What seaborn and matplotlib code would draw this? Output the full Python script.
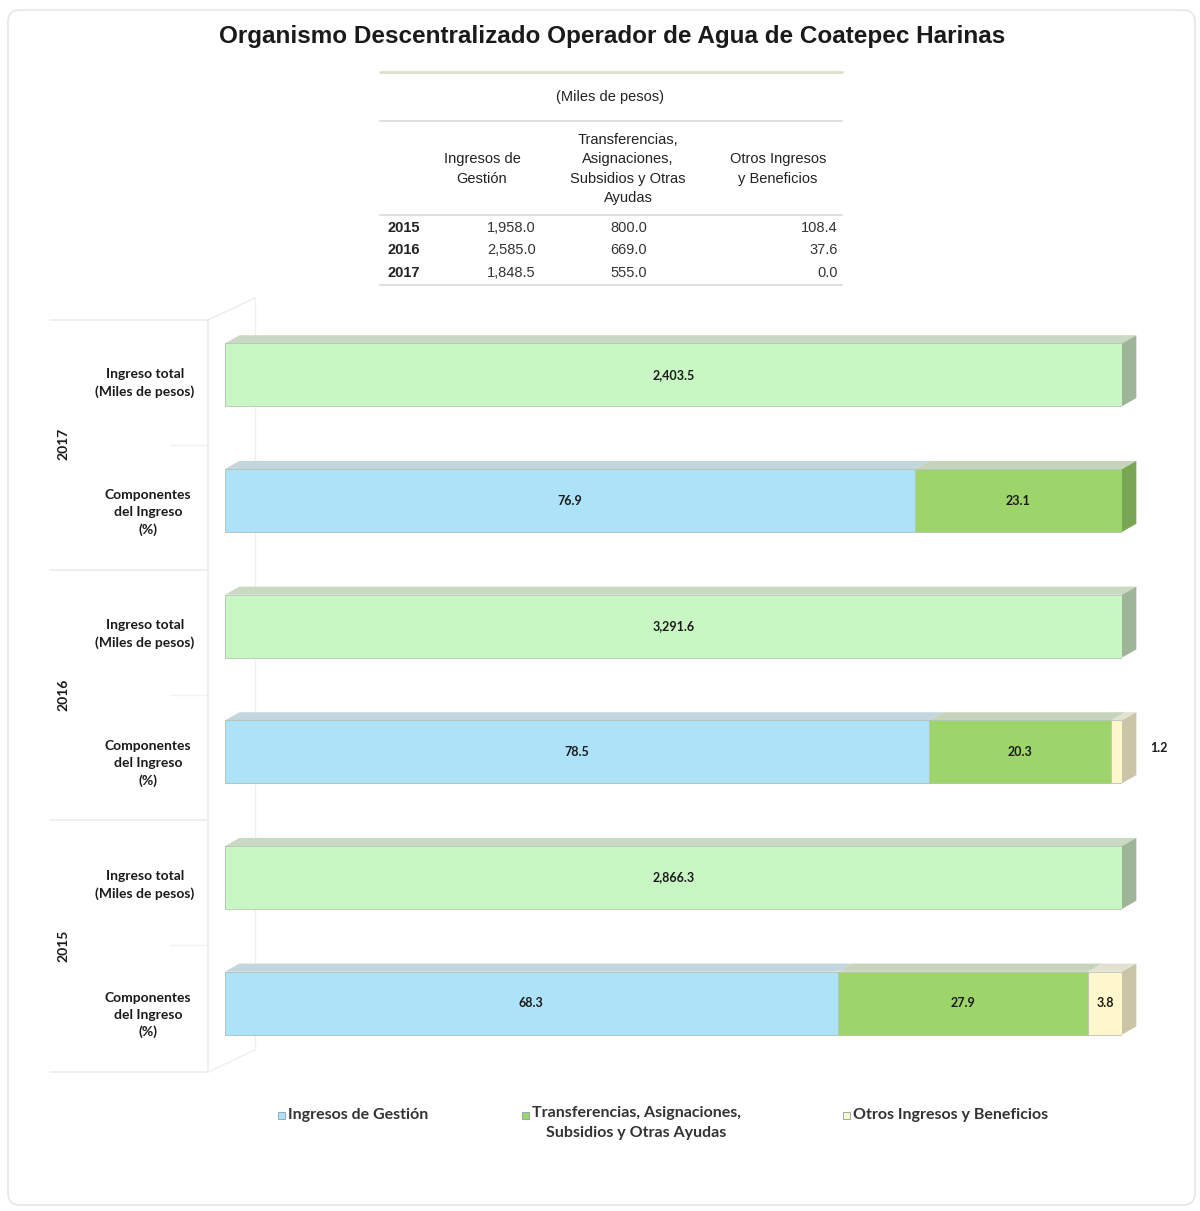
import pandas as pd
import matplotlib.pyplot as plt
import seaborn as sns
from matplotlib.patches import Polygon, FancyBboxPatch
from matplotlib.lines import Line2D

# Datos
anios = ['2017', '2016', '2015']
ingreso_total = [2403.5, 3291.6, 2866.3]
pct_gestion = [76.9, 78.5, 68.3]
pct_transf = [23.1, 20.3, 27.9]
pct_otros = [0.0, 1.2, 3.8]

tabla_anios = ['2015', '2016', '2017']
tabla_gestion = [1958.0, 2585.0, 1848.5]
tabla_transf = [800.0, 669.0, 555.0]
tabla_otros = [108.4, 37.6, 0.0]

series = ['Ingresos de Gestión', 'Transferencias, Asignaciones,\nSubsidios y Otras Ayudas',
          'Otros Ingresos y Beneficios']

sns.set_style('white')
plt.rcParams['font.family'] = ['Liberation Sans']
narrow = ['Liberation Sans Narrow', 'Lato', 'DejaVu Sans']

c_total = '#c9f7c4'
c_gest = '#ade3f8'
c_transf = '#9dd56b'
c_otros = '#fff7cc'
top_col = {c_total: '#c9d9c4', c_gest: '#c3d6de', c_transf: '#c6d4bc', c_otros: '#e3e1d2'}
side_col = {c_total: '#9fb598', c_gest: '#8fb4c4', c_transf: '#7aa653', c_otros: '#c9c5a6'}

fig = plt.figure(figsize=(12, 12.11), dpi=100)
H = 1211.0

# marco exterior
fig.patches.append(FancyBboxPatch((8 / 1200, 1 - 1205 / H), 1187 / 1200, 1195 / H,
                                  boxstyle='round,pad=0,rounding_size=0.01',
                                  transform=fig.transFigure, fill=False,
                                  edgecolor='#e6e6e6', lw=1.2))

fig.text(0.51, 1 - 37 / H, 'Organismo Descentralizado Operador de Agua de Coatepec Harinas',
         ha='center', va='center', fontsize=17.5, fontweight='bold', color='#1a1a1a')

# ---- tabla ----
def fx(px):
    return px / 1200

def fy(py):
    return 1 - py / H

for yy, col, lw in [(72, '#d9e2c8', 2), (121, '#e0e0e0', 1.5), (215, '#e0e0e0', 1.5), (285, '#e0e0e0', 1.5)]:
    fig.add_artist(Line2D([fx(380), fx(842)], [fy(yy), fy(yy)], color=col, lw=lw))
fig.text(fx(610), fy(97), '(Miles de pesos)', ha='center', va='center', fontsize=10.5, color='#222222')
fig.text(fx(482), fy(169), 'Ingresos de\nGestión', ha='center', va='center', fontsize=10.5,
         color='#222222', linespacing=1.5)
fig.text(fx(628), fy(169), 'Transferencias,\nAsignaciones,\nSubsidios y Otras\nAyudas', ha='center',
         va='center', fontsize=10.5, color='#222222', linespacing=1.5)
fig.text(fx(778), fy(169), 'Otros Ingresos\ny Beneficios', ha='center', va='center', fontsize=10.5,
         color='#222222', linespacing=1.5)
for i, a in enumerate(tabla_anios):
    yy = fy(228 + 22.5 * i)
    fig.text(fx(388), yy, a, ha='left', va='center', fontsize=10.5, fontweight='bold', color='#222222')
    fig.text(fx(536), yy, f'{tabla_gestion[i]:,.1f}', ha='right', va='center', fontsize=10.5, color='#333333')
    fig.text(fx(647), yy, f'{tabla_transf[i]:,.1f}', ha='right', va='center', fontsize=10.5, color='#333333')
    fig.text(fx(838), yy, f'{tabla_otros[i]:,.1f}', ha='right', va='center', fontsize=10.5, color='#333333')

# ---- barras ----
filas = []
for a in anios:
    filas += [a + ' total', a + ' comp']

df = pd.DataFrame({
    'fila': filas,
    'total': sum([[100, 0] for _ in anios], []),
    'cum3': sum([[0, g + t + o] for g, t, o in zip(pct_gestion, pct_transf, pct_otros)], []),
    'cum2': sum([[0, g + t] for g, t in zip(pct_gestion, pct_transf)], []),
    'cum1': sum([[0, g] for g in pct_gestion], []),
})

ax = fig.add_axes([225 / 1200, 1 - 1066 / H, (1122 - 225) / 1200, (1066 - 312) / H])
ax.set_facecolor('none')
bw = 0.5
for col, c in [('total', c_total), ('cum3', c_otros), ('cum2', c_transf), ('cum1', c_gest)]:
    sns.barplot(data=df, x=col, y='fila', order=filas, color=c, width=bw, orient='h',
                edgecolor='#b8c4b8', linewidth=0.6, ax=ax, zorder=3, saturation=1)

dx, dy = 1.6, 0.065
for i, a in enumerate(anios):
    r_tot, r_comp = 2 * i, 2 * i + 1
    segs_tot = [(0, 100, c_total)]
    segs_comp = []
    x0 = 0
    for v, c in zip([pct_gestion[i], pct_transf[i], pct_otros[i]], [c_gest, c_transf, c_otros]):
        if v > 0:
            segs_comp.append((x0, v, c))
        x0 += v
    for r, segs in [(r_tot, segs_tot), (r_comp, segs_comp)]:
        yt, yb = r - bw / 2, r + bw / 2
        for (l, w, c) in segs:
            ax.add_patch(Polygon([(l, yt), (l + w, yt), (l + w + dx, yt - dy), (l + dx, yt - dy)],
                                 closed=True, facecolor=top_col[c], edgecolor='none',
                                 zorder=2, clip_on=False))
        l, w, c = segs[-1]
        ax.add_patch(Polygon([(l + w, yt), (l + w + dx, yt - dy), (l + w + dx, yb - dy), (l + w, yb)],
                             closed=True, facecolor=side_col[c], edgecolor='none',
                             zorder=2, clip_on=False))
    # etiquetas
    ax.text(50, r_tot, f'{ingreso_total[i]:,.1f}', ha='center', va='center', fontsize=9,
            fontweight='bold', color='#1a1a1a', family=narrow, zorder=5)
    for (l, w, c) in segs_comp:
        if w >= 3:
            ax.text(l + w / 2, r_comp, f'{w:.1f}', ha='center', va='center', fontsize=9,
                    fontweight='bold', color='#1a1a1a', family=narrow, zorder=5)
        else:
            ax.text(100 + dx + 1.5, r_comp - 0.03, f'{w:.1f}', ha='left', va='center', fontsize=9,
                    fontweight='bold', color='#1a1a1a', family=narrow, zorder=5)

ax.set_xlim(0, 100)
ax.set_ylim(5.5, -0.5)
ax.set_xlabel('')
ax.set_ylabel('')
ax.set_xticks([])
ax.set_yticks([])
sns.despine(ax=ax, left=True, bottom=True)

# ---- etiquetas del eje y (panel izquierdo) ----
row_px = [375 + 125.6 * k for k in range(6)]
grid_kw = dict(zorder=-1)
for yy in [320, 570, 820, 1072]:
    fig.add_artist(Line2D([fx(50), fx(208)], [fy(yy), fy(yy)], color='#ececec', lw=1.2, **grid_kw))
for yy in [445, 695, 945]:
    fig.add_artist(Line2D([fx(170), fx(208)], [fy(yy), fy(yy)], color='#f2f2f2', lw=1, **grid_kw))
fig.add_artist(Line2D([fx(208), fx(208)], [fy(320), fy(1072)], color='#ececec', lw=1.2, **grid_kw))
fig.add_artist(Line2D([fx(208), fx(255)], [fy(320), fy(298)], color='#ececec', lw=1, **grid_kw))
fig.add_artist(Line2D([fx(255), fx(255)], [fy(298), fy(1050)], color='#f0f0f0', lw=1, **grid_kw))
fig.add_artist(Line2D([fx(208), fx(255)], [fy(1072), fy(1050)], color='#f0f0f0', lw=1, **grid_kw))

for i, a in enumerate(anios):
    fig.text(fx(145), fy(row_px[2 * i] + 8), 'Ingreso total\n(Miles de pesos)', ha='center', va='center',
             fontsize=10, fontweight='bold', color='#1a1a1a', family=narrow, linespacing=1.5)
    fig.text(fx(148), fy(row_px[2 * i + 1] + 12), 'Componentes\ndel Ingreso\n(%)', ha='center',
             va='center', fontsize=10, fontweight='bold', color='#1a1a1a', family=narrow, linespacing=1.5)
    fig.text(fx(63), fy((row_px[2 * i] + row_px[2 * i + 1]) / 2 + 6), a, ha='center', va='center',
             rotation=90, fontsize=10, fontweight='bold', color='#1a1a1a', family=narrow)

# ---- leyenda ----
for xp, lab, c in zip([278, 522, 843], series, [c_gest, c_transf, c_otros]):
    fig.patches.append(plt.Rectangle((fx(xp), fy(1119)), 7 / 1200, 7 / H, transform=fig.transFigure,
                                     facecolor=c, edgecolor='#8aa0a8', lw=0.6))
    if '\n' in lab:
        fig.text(fx(xp + 10), fy(1106), lab, ha='left', va='top', fontsize=11.5, fontweight='bold',
                 color='#333333', family=narrow, linespacing=1.5, multialignment='center')
    else:
        fig.text(fx(xp + 10), fy(1115), lab, ha='left', va='center', fontsize=11.5, fontweight='bold',
                 color='#333333', family=narrow)

fig.savefig('out.png', dpi=100, facecolor='white')
